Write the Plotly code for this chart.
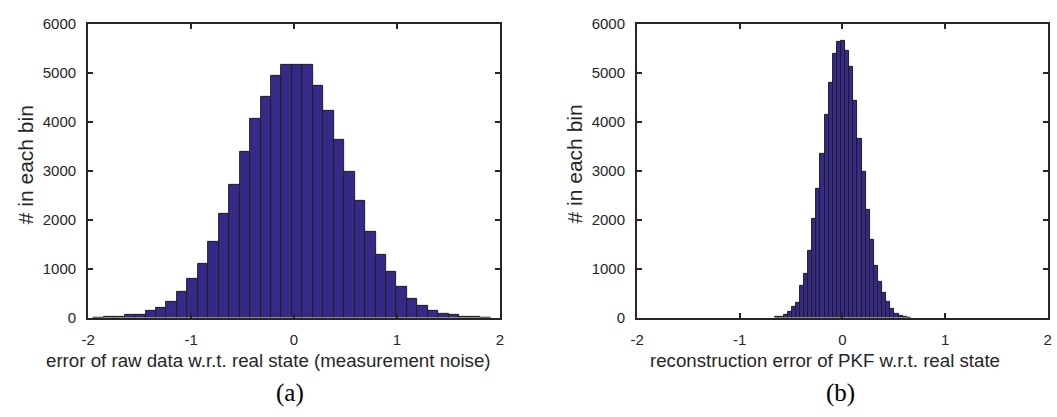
import plotly.graph_objects as go

# ---- data ----
raw_centers = [-1.898, -1.797, -1.695, -1.594, -1.492, -1.390, -1.289, -1.187, -1.086, -0.984,
               -0.882, -0.781, -0.679, -0.578, -0.476, -0.374, -0.273, -0.171, -0.070, 0.032,
               0.134, 0.235, 0.337, 0.438, 0.540, 0.642, 0.743, 0.845, 0.946, 1.048,
               1.150, 1.251, 1.353, 1.454, 1.556, 1.658, 1.759, 1.861]
raw_counts = [2, 5, 15, 46, 52, 137, 196, 326, 528, 782,
              1102, 1552, 2113, 2712, 3391, 4050, 4519, 4936, 5157, 5170,
              5170, 4740, 4218, 3632, 2980, 2393, 1747, 1278, 939, 619,
              385, 241, 143, 85, 46, 22, 9, 3]
raw_binwidth = 0.1016

pkf_centers = [-0.633, -0.593, -0.553, -0.513, -0.473, -0.433, -0.393, -0.353, -0.313, -0.273,
               -0.233, -0.193, -0.153, -0.113, -0.073, -0.033, 0.007, 0.047, 0.087, 0.127,
               0.167, 0.207, 0.247, 0.287, 0.327, 0.367, 0.407, 0.447, 0.487, 0.527,
               0.567, 0.607, 0.647]
pkf_counts = [5, 12, 53, 125, 210, 308, 647, 902, 1373, 2020,
              2628, 3340, 4131, 4785, 5380, 5641, 5654, 5445, 5118, 4431,
              3647, 2975, 2203, 1582, 1066, 739, 497, 314, 170, 86,
              40, 12, 4]
pkf_binwidth = 0.0401

x_ticks = [-2, -1, 0, 1, 2]
y_ticks = [0, 1000, 2000, 3000, 4000, 5000, 6000]

xlabel_a = "error of raw data w.r.t. real state (measurement noise)"
xlabel_b = "reconstruction error of PKF w.r.t. real state"
ylabel = "# in each bin"
captions = ["(a)", "(b)"]

# ---- style ----
W, H = 1057, 417
BAR = "rgb(53,42,135)"
EDGE = "rgb(30,30,30)"
AX = "rgb(38,38,38)"
FONT = "Liberation Sans, Arial, sans-serif"

fig = go.Figure()
fig.add_trace(go.Bar(x=raw_centers, y=raw_counts, width=raw_binwidth,
                     marker=dict(color=BAR, line=dict(color=EDGE, width=1)),
                     xaxis="x", yaxis="y", showlegend=False))
fig.add_trace(go.Bar(x=pkf_centers, y=pkf_counts, width=pkf_binwidth,
                     marker=dict(color=BAR, line=dict(color=EDGE, width=1)),
                     xaxis="x2", yaxis="y2", showlegend=False))

def px_x(p):
    return p / W

def px_y(p):
    return 1 - p / H

top, bottom = 15.5, 321.7
ydom = [px_y(bottom), px_y(top)]
xdom1 = [px_x(82), px_x(498)]
xdom2 = [px_x(636.7), px_x(1051.7)]

common_x = dict(range=[-2, 2], tickvals=x_ticks, ticktext=[str(v) for v in x_ticks],
                showline=True, linewidth=2, linecolor=AX, mirror="ticks",
                ticks="inside", ticklen=5, tickwidth=2, tickcolor=AX,
                showgrid=False, zeroline=False, ticklabelstandoff=7,
                tickfont=dict(family=FONT, size=15, color=AX))
common_y = dict(range=[0, 6000], tickvals=y_ticks, ticktext=[str(v) for v in y_ticks],
                showline=True, linewidth=2, linecolor=AX, mirror="ticks",
                ticks="inside", ticklen=5, tickwidth=2, tickcolor=AX,
                showgrid=False, zeroline=False, ticklabelstandoff=7,
                tickfont=dict(family=FONT, size=15, color=AX))

fig.update_layout(
    width=W, height=H,
    margin=dict(l=0, r=0, t=0, b=0),
    paper_bgcolor="white", plot_bgcolor="white",
    bargap=0,
    xaxis=dict(domain=xdom1, anchor="y", **common_x),
    yaxis=dict(domain=ydom, anchor="x", **common_y),
    xaxis2=dict(domain=xdom2, anchor="y2", **common_x),
    yaxis2=dict(domain=ydom, anchor="x2", **common_y),
)

ann = []
for xl_cx, lab, cap_cx, cap, ylx in [(264, xlabel_a, 286, captions[0], 19),
                                     (827, xlabel_b, 842, captions[1], 573)]:
    ann.append(dict(x=px_x(xl_cx), y=px_y(366), xref="paper", yref="paper", text=lab, showarrow=False,
                    xanchor="center", yanchor="middle",
                    font=dict(family=FONT, size=18.7, color=AX)))
    ann.append(dict(x=px_x(cap_cx), y=px_y(400), xref="paper", yref="paper", text=cap, showarrow=False,
                    xanchor="center", yanchor="middle",
                    font=dict(family="Liberation Serif, Times New Roman, serif", size=25, color="black")))
    ann.append(dict(x=px_x(ylx), y=px_y(162), xref="paper", yref="paper", text=ylabel, showarrow=False,
                    textangle=-90, xanchor="center", yanchor="middle",
                    font=dict(family=FONT, size=21, color=AX)))
fig.update_layout(annotations=ann)

fig.write_html("out.html", config={"displayModeBar": False},
               post_script="document.body.style.margin='0';")
